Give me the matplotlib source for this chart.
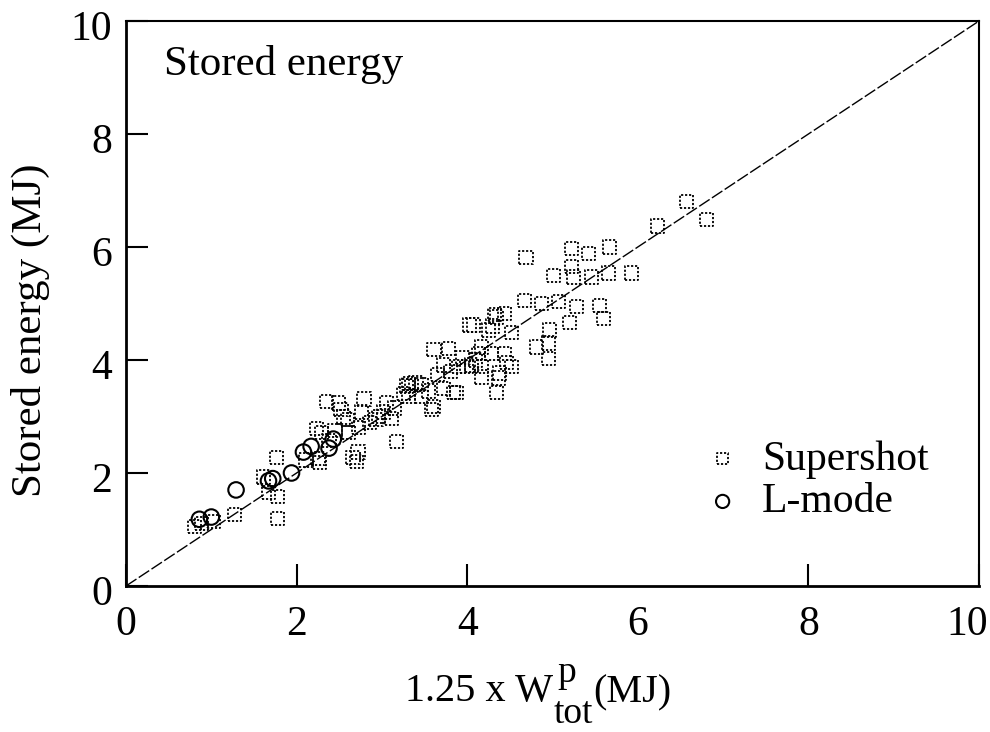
import matplotlib
matplotlib.use("Agg")
import matplotlib.pyplot as plt
import matplotlib.transforms as mtrans

# フォント設定（Times系）
plt.rcParams["font.family"] = ["Liberation Serif", "DejaVu Serif"]

# --------------------------------------------------
# データ
# --------------------------------------------------
supershot_x = [0.80, 0.88, 1.03, 1.27, 1.76, 1.61, 1.67, 1.78, 1.78, 2.11,
               2.23, 2.29, 2.38, 2.27, 2.25, 2.66, 2.70, 2.72, 2.73, 2.35,
               2.49, 2.52, 2.55, 2.61, 2.76, 2.79, 2.93, 2.96, 3.02, 3.11,
               3.15, 3.17, 3.29, 3.31, 3.46, 3.31, 3.46, 3.58, 3.60, 3.61,
               3.72, 3.72, 3.78, 3.84, 3.87, 3.90, 4.05, 4.17, 4.17, 4.03,
               4.07, 4.25, 4.32, 4.34, 4.44, 4.52, 4.13, 4.28, 4.44, 4.46,
               3.99, 4.17, 4.38, 4.37, 4.52, 4.34, 4.69, 4.67, 4.87, 5.07,
               5.28, 5.20, 5.55, 5.60, 4.96, 4.81, 4.95, 4.95, 5.22, 5.42,
               5.67, 5.93, 5.66, 5.22, 5.25, 5.01, 5.46, 6.23, 6.57, 6.81,
               3.40, 3.55, 3.65, 3.80, 3.95, 2.45, 2.60, 2.85, 3.05, 3.25,
               3.35, 4.10, 4.30]
supershot_y = [1.05, 1.10, 1.14, 1.27, 2.28, 1.93, 1.66, 1.58, 1.19, 2.23,
               2.78, 2.71, 2.58, 2.18, 2.25, 2.28, 2.20, 2.37, 2.81, 3.27,
               3.24, 3.13, 2.99, 2.71, 3.08, 3.31, 2.94, 3.00, 3.08, 2.97,
               3.15, 2.55, 3.54, 3.58, 3.56, 3.35, 3.35, 3.13, 3.17, 4.18,
               3.91, 3.50, 4.21, 3.42, 3.42, 3.88, 3.91, 4.23, 3.70, 4.62,
               4.62, 4.53, 4.80, 4.76, 4.83, 4.48, 4.12, 4.12, 4.12, 3.95,
               3.88, 3.88, 3.77, 3.68, 3.88, 3.42, 5.82, 5.06, 5.00, 5.03,
               4.94, 4.67, 4.97, 4.74, 4.53, 4.23, 4.30, 4.03, 5.98, 5.89,
               6.00, 5.54, 5.54, 5.65, 5.47, 5.50, 5.47, 6.37, 6.80, 6.48,
               3.60, 3.45, 3.75, 3.80, 4.05, 2.75, 2.95, 2.90, 3.25, 3.40,
               3.55, 4.00, 4.60]

lmode_x = [0.86, 1.00, 1.29, 1.67, 1.72, 1.94, 2.08, 2.17, 2.38, 2.43]
lmode_y = [1.18, 1.22, 1.70, 1.86, 1.90, 2.00, 2.37, 2.47, 2.44, 2.60]

diag = [0, 10]
ticks = [0, 2, 4, 6, 8, 10]
tick_labels = ["0", "2", "4", "6", "8", "10"]

# --------------------------------------------------
# 描画
# --------------------------------------------------
fig = plt.figure(figsize=(9.9, 7.32), dpi=100)
ax = fig.add_axes([0.1273, 0.1995, 0.8616, 0.7718])

ax.plot(diag, diag, color="black", lw=1.0, linestyle=(0, (9, 2)), zorder=1)

ax.scatter(supershot_x, supershot_y, marker="s", s=90, facecolors="none",
           edgecolors="black", linewidths=1.3, linestyle=(0, (1.2, 1.0)),
           zorder=2, label="Supershot")
ax.scatter(lmode_x, lmode_y, marker="o", s=125, facecolors="none",
           edgecolors="black", linewidths=1.5, zorder=3, label="L-mode")

ax.set_xlim(0, 10)
ax.set_ylim(0, 10)
ax.set_xticks(ticks, tick_labels)
ax.set_yticks(ticks, tick_labels)
ax.tick_params(direction="in", length=16, width=1.5, labelsize=30,
               top=False, right=False)
ax.tick_params(axis="x", pad=14)
ax.tick_params(axis="y", pad=10)
# 6 の目盛り線は元図でほぼ消えている
ax.xaxis.get_major_ticks()[3].tick1line.set_visible(False)

# 端のラベル位置を少しずらす
xl = ax.get_xticklabels()
xl[-1].set_transform(xl[-1].get_transform() +
                     mtrans.ScaledTranslation(-0.12, 0, fig.dpi_scale_trans))
for lab in ax.get_yticklabels():
    lab.set_transform(lab.get_transform() +
                      mtrans.ScaledTranslation(0, -0.04, fig.dpi_scale_trans))

for sp in ax.spines.values():
    sp.set_linewidth(1.5)
ax.spines["left"].set_linewidth(2)
ax.spines["bottom"].set_linewidth(2)

ax.set_ylabel("Stored energy (MJ)", fontsize=31)
ax.yaxis.set_label_coords(-0.089, 0.453)

ax.text(0.045, 0.958, "Stored energy", transform=ax.transAxes,
        fontsize=31, va="top", ha="left")

ax.legend(loc="upper left", bbox_to_anchor=(0.675, 0.258), frameon=False,
          fontsize=30, markerscale=0.85, handletextpad=0.45,
          labelspacing=0.1, handlelength=1.0, borderpad=0, borderaxespad=0,
          scatterpoints=1)

# x 軸ラベル：1.25 x W^p_tot(MJ) を部品ごとに配置
x0, base = 405, 732 - 701
t1 = fig.text(x0, base, "1.25 x W", fontsize=29, va="baseline",
              ha="left", transform=None)
fig.canvas.draw()
r = fig.canvas.get_renderer()
w_end = t1.get_window_extent(r).x1
tp = fig.text(w_end + 4, base + 19, "p", fontsize=27, va="baseline",
              ha="left", transform=None)
tt = fig.text(w_end + 1, base - 22, "tot", fontsize=27, va="baseline",
              ha="left", transform=None)
fig.canvas.draw()
tot_end = tt.get_window_extent(r).x1
fig.text(tot_end, base - 1, "(MJ)", fontsize=29, va="baseline",
         ha="left", transform=None)

fig.savefig("out.png", dpi=100)
plt.close(fig)
